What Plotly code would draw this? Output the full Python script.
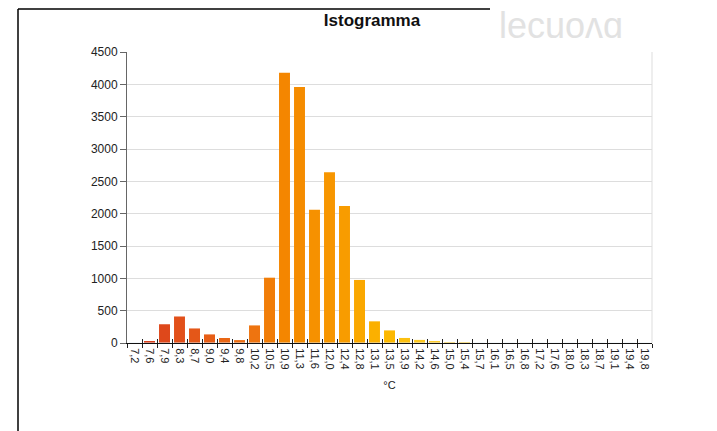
import plotly.graph_objects as go

categories = ["7,2", "7,6", "7,9", "8,3", "8,7", "9,0", "9,4", "9,8", "10,2", "10,5",
              "10,9", "11,3", "11,6", "12,0", "12,4", "12,8", "13,1", "13,5", "13,9", "14,2",
              "14,6", "15,0", "15,4", "15,7", "16,1", "16,5", "16,8", "17,2", "17,6", "18,0",
              "18,3", "18,7", "19,1", "19,4", "19,8"]
counts = [0, 25, 290, 410, 225, 133, 77, 45, 272, 1010,
          4180, 3960, 2060, 2640, 2120, 975, 335, 195, 78, 48,
          30, 15, 5, 0, 0, 0, 0, 0, 0, 0,
          0, 0, 0, 0, 0]
y_ticks = [0, 500, 1000, 1500, 2000, 2500, 3000, 3500, 4000, 4500]

title_text = "Istogramma"
x_title = "°C"

# colour gradient stops (style): (index, rgb)
stops = [(0, (214, 58, 30)), (1, (217, 64, 28)), (3, (226, 80, 26)), (8, (238, 116, 16)),
         (10, (244, 134, 0)), (14, (248, 156, 0)), (15, (250, 168, 0)), (17, (252, 184, 0)),
         (19, (253, 200, 32)), (21, (254, 208, 64)), (34, (254, 215, 80))]
n = len(categories)
colors = []
for i in range(n):
    for (a, ca), (b, cb) in zip(stops[:-1], stops[1:]):
        if a <= i <= b:
            t = (i - a) / (b - a)
            c = tuple(int(round(ca[k] + (cb[k] - ca[k]) * t)) for k in range(3))
            break
    colors.append("rgb(%d,%d,%d)" % c)

fig = go.Figure()
fig.add_trace(go.Bar(x=categories, y=counts, marker=dict(color=colors, line=dict(width=0)),
                     hoverinfo="x+y"))
# invisible trace on overlay axis for inward ticks
fig.add_trace(go.Bar(x=categories, y=[0] * n, xaxis="x2", yaxis="y",
                     marker=dict(color="rgba(0,0,0,0)"), hoverinfo="skip", showlegend=False))

W, H = 717, 431
L, R, T, B = 127, 65, 52, 88
pw, ph = W - L - R, H - T - B

def px_x(px):
    return (px - L) / pw

def px_y(py):
    return (H - B - py) / ph

fig.update_layout(
    width=W, height=H,
    margin=dict(l=L, r=R, t=T, b=B),
    paper_bgcolor="white", plot_bgcolor="white",
    showlegend=False,
    bargap=0.27,
    font=dict(family="Liberation Sans, Arial", size=11, color="#222"),
    xaxis=dict(type="category", categoryorder="array", categoryarray=categories,
               tickangle=90, ticks="outside", ticklen=4, tickwidth=1, tickcolor="#222",
               tickson="boundaries", showline=True, linecolor="#111", linewidth=1,
               showgrid=False, range=[-0.5, n - 0.5], ticklabelstandoff=2,
               tickfont=dict(size=11, color="#222"),
               title=dict(text=x_title, font=dict(size=11, color="#222"), standoff=12)),
    xaxis2=dict(type="category", categoryorder="array", categoryarray=categories,
                overlaying="x", matches="x", ticks="inside", ticklen=4, tickwidth=1,
                tickcolor="#222", tickson="boundaries", showticklabels=False,
                showline=False, showgrid=False, range=[-0.5, n - 0.5]),
    yaxis=dict(range=[0, 4500], tickvals=y_ticks, ticks="outside", ticklen=6,
               tickcolor="#666", showline=True, linecolor="#666", linewidth=1,
               gridcolor="#dddddd", gridwidth=1, zeroline=False,
               tickfont=dict(size=12, color="#222")),
    title=dict(text="<b>" + title_text + "</b>", x=372 / W,
               xanchor="center", y=1 - 20 / H, yanchor="middle",
               font=dict(family="Liberation Sans, Arial", size=17, color="#111")),
)

# plot area right border
fig.add_shape(type="line", xref="paper", yref="paper", x0=1, x1=1, y0=0, y1=1,
              line=dict(color="#dddddd", width=1))
# outer frame (left + top)
fig.add_shape(type="line", xref="paper", yref="paper", x0=px_x(18), x1=px_x(18),
              y0=px_y(9), y1=px_y(431), line=dict(color="#000", width=1.5))
fig.add_shape(type="line", xref="paper", yref="paper", x0=px_x(18), x1=px_x(490),
              y0=px_y(9), y1=px_y(9), line=dict(color="#000", width=1.5))

# faint watermark
fig.add_annotation(xref="paper", yref="paper", x=px_x(497), y=px_y(25), text="lecuoʌɑ",
                   showarrow=False, font=dict(size=36, color="#e2e2e2",
                                               family="Liberation Sans, Arial"),
                   xanchor="left", yanchor="middle")

fig.write_html("out.html", config={"displayModeBar": False})

# remove default page margin so the figure sits at the window origin
with open("out.html", "r", encoding="utf-8") as f:
    html = f.read()
html = html.replace("<head>", "<head><style>html,body{margin:0;padding:0;overflow:hidden;}</style>", 1)
with open("out.html", "w", encoding="utf-8") as f:
    f.write(html)
